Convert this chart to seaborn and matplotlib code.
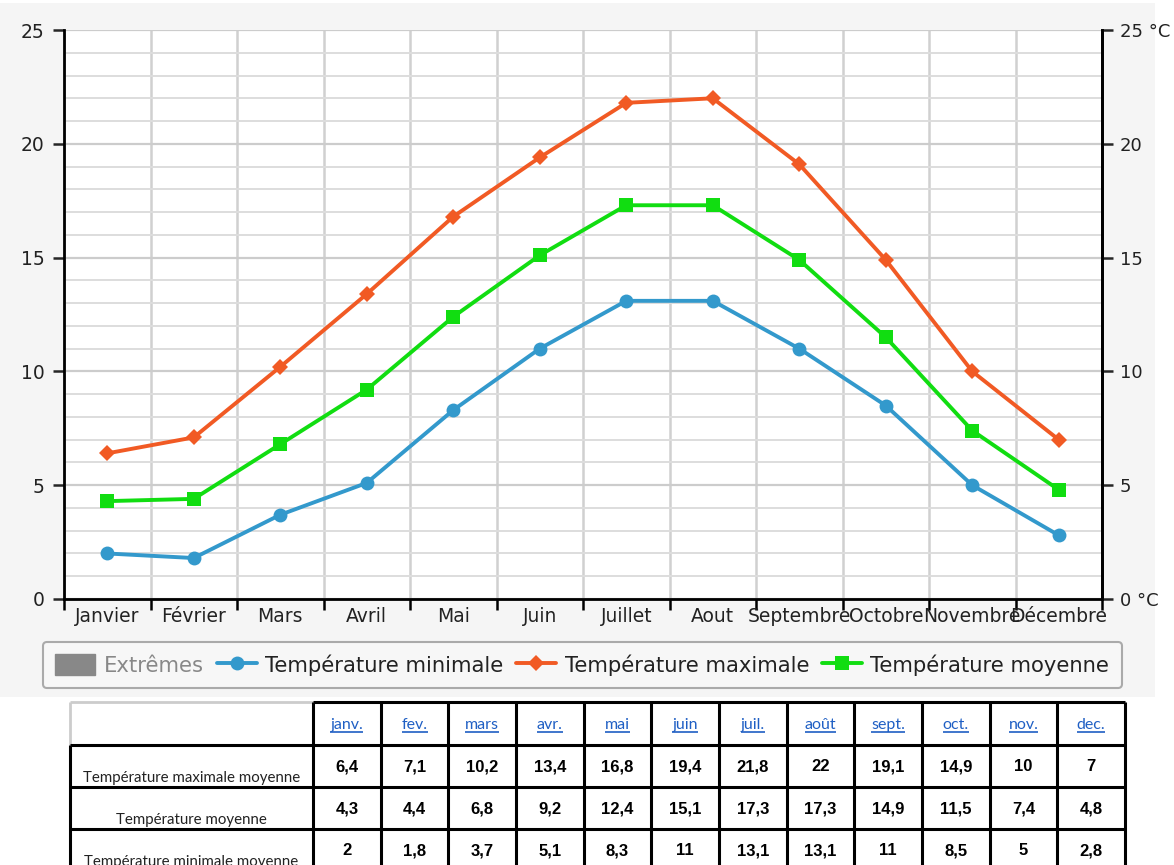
import matplotlib
matplotlib.use("Agg")
import matplotlib.pyplot as plt
from matplotlib.patches import Rectangle, Patch
from matplotlib.lines import Line2D
import seaborn as sns
import numpy as np

sns.set_style("white")
plt.rcParams["font.family"] = ["DejaVu Sans"]

# données
mois = ["Janvier", "Février", "Mars", "Avril", "Mai", "Juin", "Juillet",
        "Aout", "Septembre", "Octobre", "Novembre", "Décembre"]
mois_court = ["janv.", "fev.", "mars", "avr.", "mai", "juin", "juil.",
              "août", "sept.", "oct.", "nov.", "dec."]
t_max = [6.4, 7.1, 10.2, 13.4, 16.8, 19.4, 21.8, 22, 19.1, 14.9, 10, 7]
t_moy = [4.3, 4.4, 6.8, 9.2, 12.4, 15.1, 17.3, 17.3, 14.9, 11.5, 7.4, 4.8]
t_min = [2, 1.8, 3.7, 5.1, 8.3, 11, 13.1, 13.1, 11, 8.5, 5, 2.8]
lignes_tableau = ["Température maximale moyenne", "Température moyenne",
                  "Température minimale moyenne"]
y_ticks = [0, 5, 10, 15, 20, 25]

c_min = "#3399cc"
c_max = "#f15a24"
c_moy = "#11dd11"

W, H = 1174, 865
fig = plt.figure(figsize=(W / 100, H / 100), dpi=100)
fig.patch.set_facecolor("white")
fig.add_artist(Rectangle((0, 168 / H), 1155 / W, 1 - 168 / H - 3 / H,
                         transform=fig.transFigure, facecolor="#f5f5f5",
                         edgecolor="none", zorder=-1))

ax = fig.add_axes([64 / W, 1 - 599 / H, (1102 - 64) / W, (599 - 30) / H])
ax.set_facecolor("white")
pos = np.arange(len(mois))

sns.lineplot(x=pos, y=t_max, ax=ax, color=c_max, marker="D", markersize=8,
             markeredgewidth=0, linewidth=2.8, sort=False, zorder=4)
sns.lineplot(x=pos, y=t_moy, ax=ax, color=c_moy, marker="s", markersize=10.5,
             markeredgewidth=0, linewidth=2.8, sort=False, zorder=4)
sns.lineplot(x=pos, y=t_min, ax=ax, color=c_min, marker="o", markersize=10,
             markeredgewidth=0, linewidth=2.8, sort=False, zorder=4)

ax.set_xlim(-0.5, len(mois) - 0.5)
ax.set_ylim(0, 25)
ax.set_xticks(np.arange(-0.5, len(mois), 1))
ax.set_xticklabels([])
ax.set_xticks(pos, minor=True)
ax.set_xticklabels(mois, minor=True, fontsize=13.5, color="#222222")
ax.tick_params(axis="x", which="major", direction="out", length=8, width=1.8,
               color="black", bottom=True)
ax.tick_params(axis="x", which="minor", length=0, pad=6)
ax.set_yticks(y_ticks)
ax.set_yticklabels([str(v) for v in y_ticks], fontsize=13.5, color="#222222")
ax.set_yticks(np.arange(0, 26, 1), minor=True)
ax.tick_params(axis="y", which="major", direction="out", length=8, width=1.8,
               left=True, pad=6)
ax.tick_params(axis="y", which="minor", length=0)
ax.grid(True, axis="x", which="major", color="#d0d0d0", linewidth=1.8)
ax.grid(True, axis="y", which="minor", color="#dddddd", linewidth=1.4)
ax.grid(True, axis="y", which="major", color="#cccccc", linewidth=1.6)
ax.set_axisbelow(True)
ax.spines["top"].set_visible(False)
for s in ["left", "right", "bottom"]:
    ax.spines[s].set_color("black")
    ax.spines[s].set_linewidth(2)
ax.set_xlabel("")
ax.set_ylabel("")

ax2 = ax.twinx()
ax2.set_ylim(0, 25)
ax2.set_yticks(y_ticks)
ax2.set_yticklabels([f"{v} °C" if v in (0, 25) else str(v) for v in y_ticks],
                    fontsize=13, color="#222222")
ax2.tick_params(axis="y", direction="out", length=8, width=1.8, right=True, pad=5)
for s in ["top", "left", "bottom"]:
    ax2.spines[s].set_visible(False)
ax2.spines["right"].set_color("black")
ax2.spines["right"].set_linewidth(2)

# légende
handles = [
    Patch(facecolor="#888888", edgecolor="#888888"),
    Line2D([], [], color=c_min, marker="o", markersize=10, linewidth=2.8, markeredgewidth=0),
    Line2D([], [], color=c_max, marker="D", markersize=8, linewidth=2.8, markeredgewidth=0),
    Line2D([], [], color=c_moy, marker="s", markersize=10.5, linewidth=2.8, markeredgewidth=0),
]
labels = ["Extrêmes", "Température minimale", "Température maximale", "Température moyenne"]
leg = fig.legend(handles, labels, loc="center", bbox_to_anchor=(0.496, 1 - 665 / H),
                 ncol=4, fontsize=15.2, frameon=True, fancybox=True,
                 handlelength=1.9, handleheight=1.1, handletextpad=0.4,
                 columnspacing=0.6, borderpad=0.6, facecolor="#f7f7f7",
                 edgecolor="#aaaaaa", framealpha=1)
leg.get_frame().set_linewidth(1.5)
leg.get_texts()[0].set_color("#888888")
for t in leg.get_texts()[1:]:
    t.set_color("#222222")

# tableau
axt = fig.add_axes([0, 0, 1, 165 / H])
axt.set_xlim(0, W)
axt.set_ylim(H, 700)
axt.axis("off")
col_edges = [70, 313] + [313 + (1125 - 313) / 12 * k for k in range(1, 13)]
row_edges = [702, 745, 787, 829, 875]

axt.hlines(702, 70, 313, color="#cccccc", linewidth=2)
axt.vlines(70, 702, 745, color="#cccccc", linewidth=2)
axt.hlines(702, 313, 1125, color="black", linewidth=2.2)
axt.hlines(row_edges[1:4], 70, 1125, color="black", linewidth=2.2)
axt.vlines(70, 745, 875, color="black", linewidth=2.2)
axt.vlines(col_edges[1:], 702, 875, color="black", linewidth=2.2)

header_texts = []
for i, m in enumerate(mois_court):
    xc = (col_edges[i + 1] + col_edges[i + 2]) / 2
    t = axt.text(xc, 729, m, ha="center", va="baseline", fontsize=11.5,
                 family=["Lato", "DejaVu Sans"], color="#1f5fc4")
    header_texts.append(t)

valeurs = [t_max, t_moy, t_min]
for r, (nom, vals) in enumerate(zip(lignes_tableau, valeurs)):
    y0 = row_edges[r + 1]
    axt.text((70 + 313) / 2, y0 + 37, nom, ha="center", va="baseline",
             fontsize=10.8, family=["Lato", "DejaVu Sans"], color="#222222")
    for i, v in enumerate(vals):
        xc = (col_edges[i + 1] + col_edges[i + 2]) / 2
        s = f"{v:g}".replace(".", ",")
        axt.text(xc, y0 + 26, s, ha="center", va="baseline", fontsize=12,
                 fontweight="bold", family=["Liberation Sans", "DejaVu Sans"],
                 color="black")

fig.canvas.draw()
inv = axt.transData.inverted()
for t in header_texts:
    bb = t.get_window_extent()
    (x0, _), (x1, _) = inv.transform([(bb.x0, bb.y0), (bb.x1, bb.y0)])
    axt.hlines(732, x0, x1, color="#1f5fc4", linewidth=1.2)

fig.savefig("out.png", dpi=100)
